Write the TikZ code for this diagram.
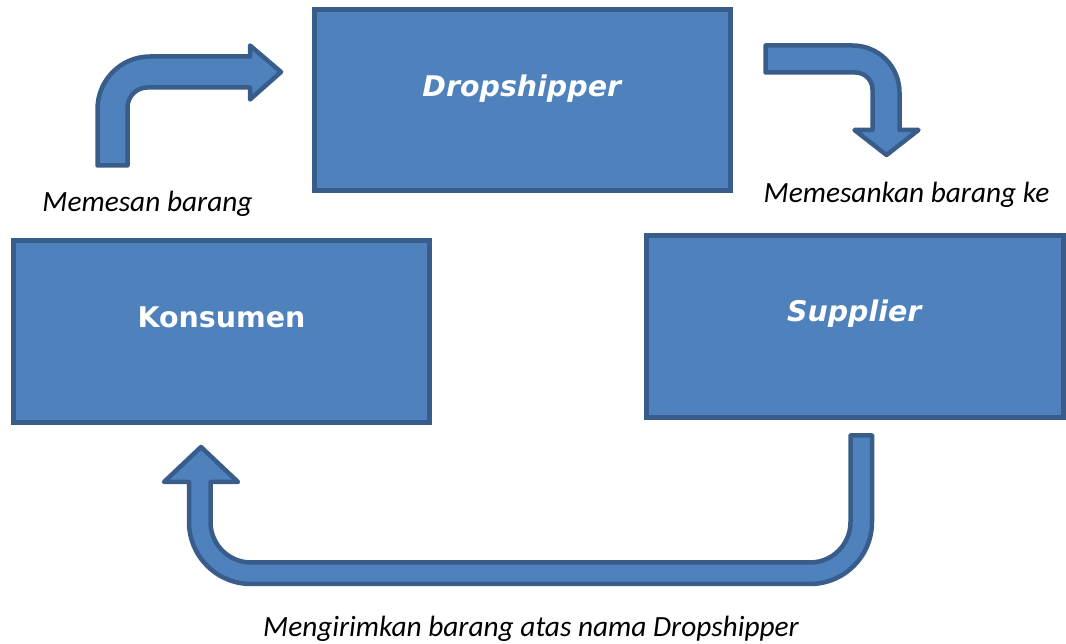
\documentclass[tikz,border=0pt]{standalone}
\usepackage{fontspec}
\setmainfont{Carlito}
\newfontfamily\boxfont{DejaVu Sans}[BoldFont={DejaVu Sans Bold},BoldItalicFont={DejaVu Sans Bold Oblique}]
\definecolor{boxfill}{HTML}{4F81BD}
\definecolor{boxline}{HTML}{385D8A}

\begin{document}
\begin{tikzpicture}
[x=0.02cm,y=-0.02cm,
  boxdecorate/.style={shape=rectangle,draw=boxline,fill=boxfill,line width=0.1cm,
    minimum width=8.34cm,minimum height=3.63cm,inner sep=0pt},%
  textdecorate/.style={anchor=base,inner sep=0pt,text=white,
    font=\boxfont\bfseries\fontsize{16.2}{19}\selectfont},%
  labeldecorate/.style={anchor=base,inner sep=0pt,
    font=\itshape\fontsize{16.7}{20}\selectfont},%
  arrowdecorate/.style={draw=boxline,fill=boxfill,line width=0.09cm,line join=round}]
\useasboundingbox (0,0) rectangle (1066,644);
%% boxes
\foreach \nodename/\x/\y/\ty/\txt in {
  dropshipper/522.5/100/97/\textit{Dropshipper},
  konsumen/221.5/331.5/328/Konsumen,
  supplier/855/326.5/322/\textit{Supplier}}
{
  \node (\nodename) at (\x,\y) [boxdecorate] {};
  \node (\nodename text) at (\x,\ty) [textdecorate] {\txt};
}
%% block arrows
% konsumen -> dropshipper
\draw[arrowdecorate] (97.5,165.5) -- (97.5,109)
  arc[start angle=180,end angle=270,radius=52.5] -- (250,56.5)
  -- (250,45.5) -- (281,72) -- (250,99.5) -- (250,87.5) -- (147.5,87.5)
  arc[start angle=270,end angle=180,radius=20] -- (127.5,165.5) -- cycle;
% dropshipper -> supplier
\draw[arrowdecorate] (765.5,45.5) -- (852.5,45.5)
  arc[start angle=270,end angle=360,radius=47] -- (899.5,130)
  -- (918.5,130) -- (886.5,155) -- (854.5,130) -- (872.5,130) -- (872.5,89.5)
  arc[start angle=0,end angle=-90,radius=17] -- (765.5,72.5) -- cycle;
% supplier -> konsumen
\draw[arrowdecorate] (850.5,435.5) -- (872,435.5) -- (872,522)
  arc[start angle=0,end angle=90,radius=62] -- (251,584)
  arc[start angle=90,end angle=180,radius=62] -- (189,482)
  -- (164,482) -- (201,447) -- (238,482) -- (210.5,482) -- (210.5,522)
  arc[start angle=180,end angle=90,radius=40.5] -- (810,562.5)
  arc[start angle=90,end angle=0,radius=40.5] -- cycle;
%% labels
\node (pesan) at (147.5,212) [labeldecorate] {Memesan barang};
\node (pesankan) at (906.5,203) [labeldecorate] {Memesankan barang ke};
\node (kirim) at (531,637) [labeldecorate] {Mengirimkan barang atas nama Dropshipper};
\end{tikzpicture}
\end{document}
